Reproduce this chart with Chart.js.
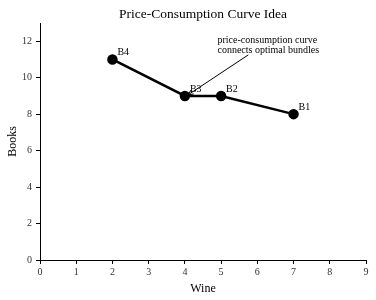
<!DOCTYPE html>
<html>
<head>
<meta charset="utf-8">
<script src="https://cdn.jsdelivr.net/npm/chart.js@4/dist/chart.umd.min.js"></script>
<style>
  html, body { margin: 0; padding: 0; background: #fff; }
  #wrap { width: 376px; height: 300px; }
</style>
</head>
<body>
<div id="wrap"><canvas id="myChart" width="376" height="300"></canvas></div>
<script>
// bundles, in order B1..B4
const bundleNames = ['B1', 'B2', 'B3', 'B4'];
const wine = [7, 5, 4, 2];
const books = [8, 9, 9, 11];

const xTicks = [0, 1, 2, 3, 4, 5, 6, 7, 8, 9];
const yTicks = [0, 2, 4, 6, 8, 10, 12];

const titleText = 'Price-Consumption Curve Idea';
const noteLines = ['price-consumption curve', 'connects optimal bundles'];
const noteAt = { x: 4.9, y: 12.05 };     // text anchor (data units)
const arrowFrom = { x: 5.75, y: 11.25 }; // arrow tail
const arrowTo = { x: 4.08, y: 9.05 };    // arrow head near B3

const serif = "'Liberation Serif', 'Times New Roman', serif";

const extras = {
  id: 'extras',
  afterDatasetsDraw(chart) {
    const { ctx, scales: { x, y }, chartArea } = chart;
    ctx.save();
    ctx.fillStyle = '#000';

    // title over the axes area
    ctx.font = '13.5px ' + serif;
    ctx.textAlign = 'center';
    ctx.textBaseline = 'middle';
    ctx.fillText(titleText, (chartArea.left + chartArea.right) / 2, 14);

    // point labels
    ctx.font = '10px ' + serif;
    ctx.textAlign = 'left';
    ctx.textBaseline = 'middle';
    bundleNames.forEach((n, i) => {
      ctx.fillText(n, x.getPixelForValue(wine[i]) + 5, y.getPixelForValue(books[i]) - 7);
    });

    // annotation text
    ctx.font = '10px ' + serif;
    const tx = x.getPixelForValue(noteAt.x);
    const ty = y.getPixelForValue(noteAt.y);
    noteLines.forEach((l, i) => ctx.fillText(l, tx, ty + i * 10));

    // arrow
    const x0 = x.getPixelForValue(arrowFrom.x), y0 = y.getPixelForValue(arrowFrom.y);
    const x1 = x.getPixelForValue(arrowTo.x), y1 = y.getPixelForValue(arrowTo.y);
    ctx.strokeStyle = '#000';
    ctx.lineWidth = 1;
    ctx.beginPath();
    ctx.moveTo(x0, y0);
    ctx.lineTo(x1, y1);
    ctx.stroke();
    const a = Math.atan2(y1 - y0, x1 - x0);
    ctx.beginPath();
    ctx.moveTo(x1 - 6 * Math.cos(a - 0.4), y1 - 6 * Math.sin(a - 0.4));
    ctx.lineTo(x1, y1);
    ctx.lineTo(x1 - 6 * Math.cos(a + 0.4), y1 - 6 * Math.sin(a + 0.4));
    ctx.stroke();
    ctx.restore();
  }
};

const ctx = document.getElementById('myChart');
new Chart(ctx, {
  type: 'scatter',
  data: {
    datasets: [{
      data: wine.map((w, i) => ({ x: w, y: books[i] })),
      showLine: true,
      borderColor: '#000',
      backgroundColor: '#000',
      borderWidth: 2.5,
      pointRadius: 4,
      pointHoverRadius: 4,
      tension: 0,
    }],
  },
  options: {
    responsive: false,
    animation: false,
    layout: { padding: { top: 23, right: 10, left: 0, bottom: 0 } },
    plugins: { legend: { display: false }, tooltip: { enabled: false } },
    scales: {
      x: {
        type: 'linear',
        min: 0,
        max: 9,
        afterBuildTicks: axis => { axis.ticks = xTicks.map(v => ({ value: v })); },
        afterFit: axis => { axis.height = 40; },
        grid: { drawOnChartArea: false, drawTicks: true, tickLength: 4, color: '#000' },
        border: { color: '#000', width: 1 },
        ticks: { color: '#333', font: { family: serif, size: 10 }, padding: 2, maxRotation: 0 },
        title: { display: true, text: 'Wine', color: '#000', font: { family: serif, size: 12 }, padding: { top: 0, bottom: 4 } },
      },
      y: {
        type: 'linear',
        min: 0,
        max: 13,
        afterBuildTicks: axis => { axis.ticks = yTicks.map(v => ({ value: v })); },
        afterFit: axis => { axis.width = 40; },
        grid: { drawOnChartArea: false, drawTicks: true, tickLength: 4, color: '#000' },
        border: { color: '#000', width: 1 },
        ticks: { color: '#333', font: { family: serif, size: 10 }, padding: 4 },
        title: { display: true, text: 'Books', color: '#000', font: { family: serif, size: 12 }, padding: { top: 6, bottom: 0 } },
      },
    },
  },
  plugins: [extras],
});
</script>
</body>
</html>
